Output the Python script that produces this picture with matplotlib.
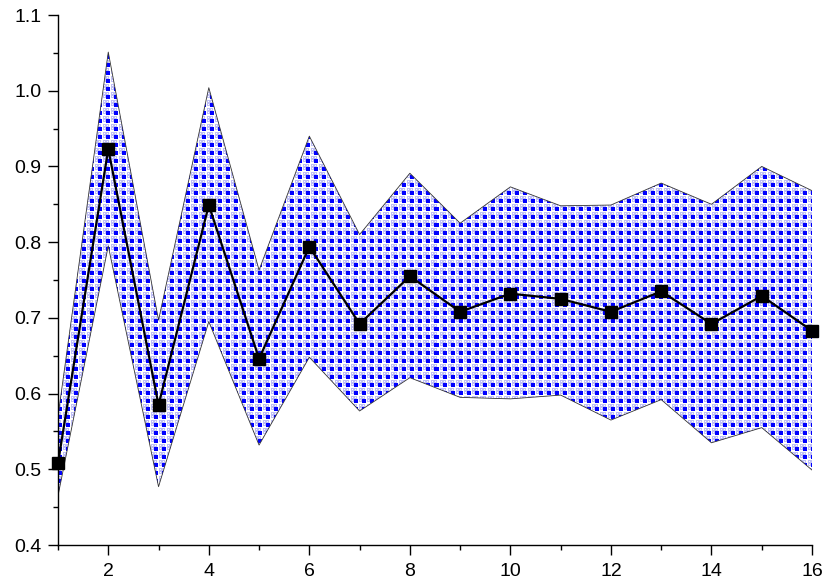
import matplotlib
matplotlib.use("Agg")
import matplotlib.pyplot as plt
import numpy as np

# ================= Data ===============
x_values = [1, 2, 3, 4, 5, 6, 7, 8, 9, 10, 11, 12, 13, 14, 15, 16]
mean_values = [0.508, 0.923, 0.585, 0.849, 0.646, 0.794, 0.692, 0.755,
               0.708, 0.732, 0.725, 0.708, 0.735, 0.692, 0.729, 0.683]
upper_values = [0.570, 1.051, 0.697, 1.004, 0.763, 0.940, 0.810, 0.891,
                0.825, 0.873, 0.848, 0.849, 0.878, 0.850, 0.900, 0.868]
lower_values = [0.465, 0.795, 0.477, 0.695, 0.532, 0.648, 0.577, 0.621,
                0.595, 0.593, 0.598, 0.565, 0.592, 0.535, 0.555, 0.499]

x_major = [2, 4, 6, 8, 10, 12, 14, 16]
x_minor = [1, 3, 5, 7, 9, 11, 13, 15]
y_major = [0.4, 0.5, 0.6, 0.7, 0.8, 0.9, 1.0, 1.1]
y_labels = ['0.4', '0.5', '0.6', '0.7', '0.8', '0.9', '1.0', '1.1']
y_minor = [0.45, 0.55, 0.65, 0.75, 0.85, 0.95, 1.05]

# ================= Figure ===============
plt.rcParams['font.family'] = ['Liberation Sans', 'DejaVu Sans']

fig = plt.figure(figsize=(8.30, 5.87), dpi=100)
ax = fig.add_axes([58 / 830, 42 / 587, 754 / 830, 530 / 587])

ax.set_xlim(1, 16)
ax.set_ylim(0.4, 1.1)

# band: pattern texture clipped to the fill polygon
band = ax.fill_between(x_values, lower_values, upper_values,
                       facecolor='none', edgecolor='none', zorder=1)

ring = np.array([[1, 1, 1], [1, 0, 1], [1, 1, 1]])
tile = np.zeros((8, 8), dtype=int)
tile[0:4, 0:4] = 2
tile[0:3, 5:8] = ring
tile[5:8, 0:3] = ring
tile[5:8, 5:8] = ring
palette = np.array([[1.0, 1.0, 1.0], [0.75, 0.75, 0.97], [0.0, 0.0, 1.0]])
texture = palette[np.tile(tile, (530 // 8 + 1, 754 // 8 + 1))[:530, :754]]

im = ax.imshow(texture, extent=(1, 16, 0.4, 1.1), aspect='auto',
               interpolation='nearest', origin='upper', zorder=1)
im.set_clip_path(band.get_paths()[0], transform=ax.transData)

ax.plot(x_values, upper_values, color='#333333', linewidth=0.6, zorder=2)
ax.plot(x_values, lower_values, color='#333333', linewidth=0.6, zorder=2)

ax.plot(x_values, mean_values, color='black', linewidth=1.6,
        marker='s', markersize=8.5, zorder=3, clip_on=False)

# ================= Axes style ===============
ax.spines['top'].set_visible(False)
ax.spines['right'].set_visible(False)
ax.spines['left'].set_linewidth(1.0)
ax.spines['bottom'].set_linewidth(1.0)

ax.set_xticks(x_major)
ax.set_xticks(x_minor, minor=True)
ax.set_yticks(y_major)
ax.set_yticklabels(y_labels)
ax.set_yticks(y_minor, minor=True)

ax.tick_params(which='major', direction='out', length=7, width=1.0,
               labelsize=14)
ax.tick_params(axis='y', which='major', pad=5)
ax.tick_params(axis='x', which='major', pad=6)
ax.tick_params(which='minor', direction='out', length=3.6, width=1.0)

fig.savefig('out.png', dpi=100)
